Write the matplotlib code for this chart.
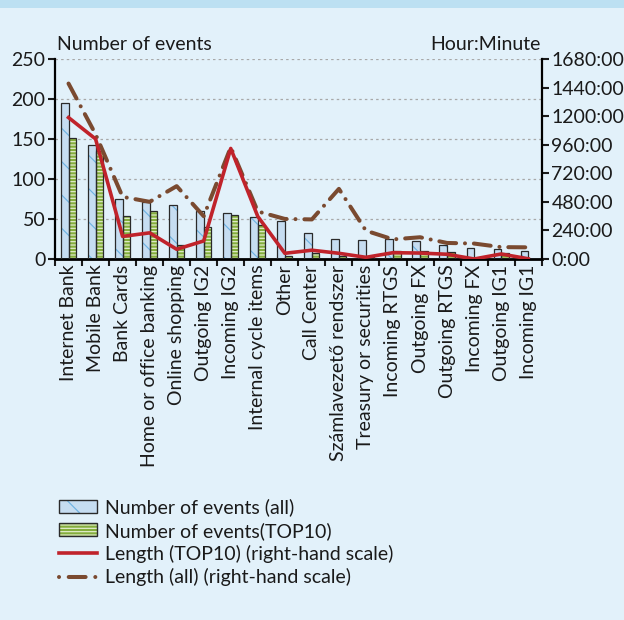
import matplotlib
matplotlib.use("Agg")
import matplotlib.pyplot as plt
from matplotlib.patches import Rectangle, Patch
from matplotlib.lines import Line2D
from matplotlib.legend_handler import HandlerPatch
from matplotlib.ticker import FuncFormatter, MultipleLocator
import numpy as np

plt.rcParams['font.family'] = ['Lato', 'DejaVu Sans']
plt.rcParams['hatch.linewidth'] = 0.85

categories = ["Internet Bank", "Mobile Bank", "Bank Cards", "Home or office banking",
              "Online shopping", "Outgoing IG2", "Incoming IG2", "Internal cycle items",
              "Other", "Call Center", "Számlavezető rendszer", "Treasury or securities",
              "Incoming RTGS", "Outgoing FX", "Outgoing RTGS", "Incoming FX",
              "Outgoing IG1", "Incoming IG1"]
events_all = [195, 143, 75, 71, 67, 60, 58, 52, 48, 33, 25, 24, 25, 23, 18, 14, 12, 10]
events_top10 = [152, 135, 54, 60, 17, 40, 55, 42, 4, 8, 4, 2, 10, 10, 9, 0, 8, 0]
# lengths in hours
length_top10 = [1190, 1010, 190, 220, 82, 152, 930, 358, 48, 74, 48, 14, 53, 50, 40, 0, 42, 2]
length_all = [1476, 1050, 523, 481, 613, 360, 940, 400, 337, 333, 590, 238, 165, 183, 135, 130, 100, 98]

FS = 14
BG = "#E2F1FA"
BAND = "#BCE0F2"
TXT = "#1a1a1a"
fig = plt.figure(figsize=(6.24, 6.20), dpi=100, facecolor=BG)
fig.patches.append(Rectangle((0, 1 - 8 / 620), 1, 8 / 620, transform=fig.transFigure,
                             facecolor=BAND, edgecolor="none", zorder=0))

ax = fig.add_axes([55 / 624, 1 - 259 / 620, (541.7 - 55) / 624, (259 - 59.3) / 620])
ax.set_facecolor("none")
x = np.arange(len(categories))
w = 0.28
blue_fill = "#C6DDF1"
blue_hatch = "#6FB3E3"
green_fill = "#84AE3C"
green_hatch = "#E4EECF"
edge = "#2a2a2a"

ax.bar(x - w / 2, events_all, w, color=blue_fill, edgecolor=blue_hatch, hatch="\\", linewidth=0, zorder=2)
ax.bar(x - w / 2, events_all, w, facecolor="none", edgecolor=edge, linewidth=0.9, zorder=3)
ax.bar(x + w / 2, events_top10, w, color=green_fill, edgecolor=green_hatch, hatch="-----", linewidth=0, zorder=2)
ax.bar(x + w / 2, [v if v > 0 else np.nan for v in events_top10], w, facecolor="none",
       edgecolor=edge, linewidth=0.9, zorder=3)

ax.set_xlim(-0.5, len(categories) - 0.5)
ax.set_ylim(0, 250)
ax.yaxis.set_major_locator(MultipleLocator(50))
ax.grid(axis="y", color="#A8A8A8", linestyle=(0, (2, 2.5)), linewidth=0.9, zorder=0)
ax.set_axisbelow(True)

ax.set_xticks(x)
ax.set_xticklabels(categories, rotation=90, fontsize=FS, color=TXT)
ax.tick_params(axis="x", length=0, pad=4)
ax.set_xticks(np.arange(-0.5, len(categories), 1), minor=True)
ax.tick_params(axis="x", which="minor", length=5, width=1.5, direction="out", color=TXT)
ax.tick_params(axis="y", length=5, width=1.5, direction="out", labelsize=FS, colors=TXT, pad=2)

ax.spines["top"].set_visible(False)
ax.spines["left"].set_linewidth(1.6)
ax.spines["bottom"].set_linewidth(2)
ax.spines["right"].set_visible(False)

ax2 = ax.twinx()
ax2.set_ylim(0, 1680)
ax2.yaxis.set_major_locator(MultipleLocator(240))
ax2.yaxis.set_major_formatter(FuncFormatter(lambda v, p: f"{int(round(v))}:00"))
ax2.tick_params(axis="y", length=5, width=1.5, direction="out", labelsize=FS, colors=TXT, pad=2)
for s in ["top", "left", "bottom"]:
    ax2.spines[s].set_visible(False)
ax2.spines["right"].set_linewidth(1.6)

red = "#C0232B"
brown = "#7A4A30"
ax2.plot(x, length_all, color=brown, linewidth=2.9, linestyle=(0, (4.2, 2.2, 0.01, 2.2)),
         dash_capstyle="round", solid_capstyle="round", zorder=4)
ax2.plot(x, length_top10, color=red, linewidth=2.6, zorder=5)

fig.text(57 / 624, 1 - 44 / 620, "Number of events", fontsize=FS, color=TXT, va="center", ha="left")
fig.text(541 / 624, 1 - 44 / 620, "Hour:Minute", fontsize=FS, color=TXT, va="center", ha="right")


class OutlinedHatchHandler(HandlerPatch):
    def create_artists(self, legend, orig_handle, xdescent, ydescent, width, height, fontsize, trans):
        p1 = Rectangle((-xdescent, -ydescent), width, height, facecolor=orig_handle.get_facecolor(),
                       edgecolor=orig_handle.get_edgecolor(), hatch=orig_handle.get_hatch(),
                       linewidth=0, transform=trans)
        p2 = Rectangle((-xdescent, -ydescent), width, height, facecolor="none",
                       edgecolor=edge, linewidth=1.0, transform=trans)
        return [p1, p2]


h_blue = Patch(facecolor=blue_fill, edgecolor=blue_hatch, hatch="\\", linewidth=0)
h_green = Patch(facecolor=green_fill, edgecolor=green_hatch, hatch="-----", linewidth=0)
handles = [
    h_blue, h_green,
    Line2D([0], [0], color=red, linewidth=2.6),
    Line2D([0], [0], color=brown, linewidth=2.9, linestyle=(0, (0.01, 2.4, 4.2, 2.4)), dash_capstyle="round"),
]
labels = ["Number of events (all)", "Number of events(TOP10)",
          "Length (TOP10) (right-hand scale)", "Length (all) (right-hand scale)"]
leg = fig.legend(handles, labels, loc="upper left", bbox_to_anchor=(49 / 624, 1 - 489 / 620),
                 frameon=False, fontsize=FS, handlelength=1.95, handleheight=0.65,
                 labelspacing=0.27, handletextpad=0.45, borderpad=0, labelcolor=TXT,
                 handler_map={h_blue: OutlinedHatchHandler(), h_green: OutlinedHatchHandler()})

fig.savefig("out.png", dpi=100, facecolor=BG)
